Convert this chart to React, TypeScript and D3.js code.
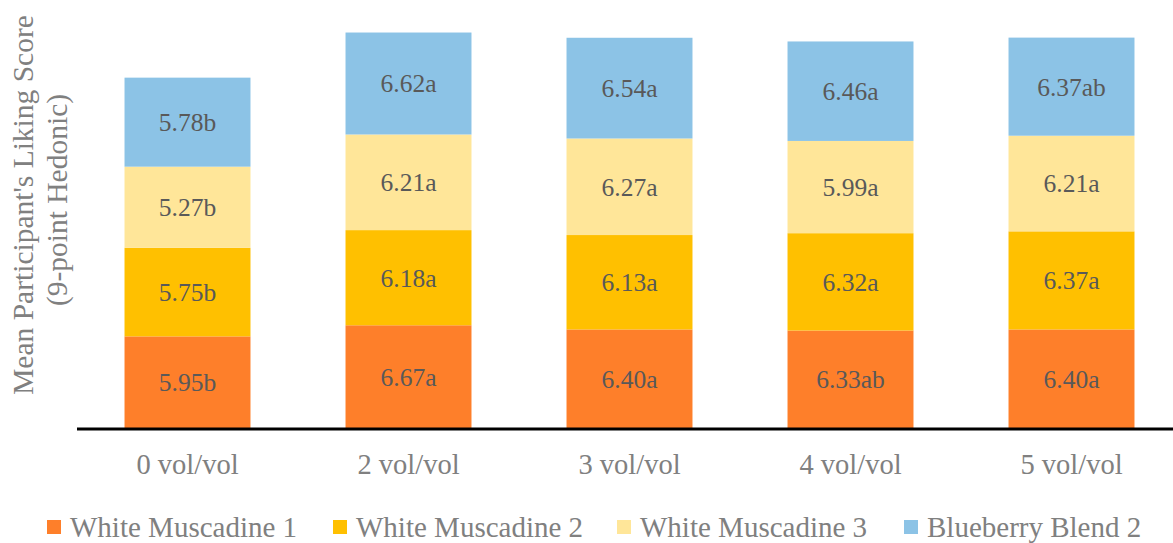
import React from 'react';
import * as d3 from 'd3';

const categories = ['0 vol/vol', '2 vol/vol', '3 vol/vol', '4 vol/vol', '5 vol/vol'];
const seriesNames = ['White Muscadine 1', 'White Muscadine 2', 'White Muscadine 3', 'Blueberry Blend 2'];
const seriesColors = ['#FE7F2A', '#FFC000', '#FFE699', '#8CC3E6'];

const muscadine1 = [5.95, 6.67, 6.40, 6.33, 6.40];
const muscadine2 = [5.75, 6.18, 6.13, 6.32, 6.37];
const muscadine3 = [5.27, 6.21, 6.27, 5.99, 6.21];
const blueberry2 = [5.78, 6.62, 6.54, 6.46, 6.37];

const letters1 = ['b', 'a', 'a', 'ab', 'a'];
const letters2 = ['b', 'a', 'a', 'a', 'a'];
const letters3 = ['b', 'a', 'a', 'a', 'a'];
const letters4 = ['b', 'a', 'a', 'a', 'ab'];

const seriesValues = [muscadine1, muscadine2, muscadine3, blueberry2];
const seriesLetters = [letters1, letters2, letters3, letters4];

const W = 1173;
const H = 543;
const FONT = '"Palatino Linotype", "Book Antiqua", Palatino, "Liberation Serif", serif';

export default function App() {
  const rows = categories.map((c, i) => {
    const r: any = { cat: c };
    seriesNames.forEach((s, j) => (r[s] = seriesValues[j][i]));
    return r;
  });
  const stacked = d3.stack<any>().keys(seriesNames)(rows);

  const x = d3.scaleBand().domain(categories).range([77, 1182]).paddingInner(0.43).paddingOuter(0.215);
  const y = d3.scaleLinear().domain([0, 26]).range([428, 428 - 26 * 15.4]);

  const legendX = [47, 333, 617, 904];

  return (
    <svg width={W} height={H} style={{ position: 'absolute', left: 0, top: 0, background: '#fff' }} fontFamily={FONT}>
      {stacked.map((layer, j) => (
        <g key={layer.key}>
          {layer.map((d, i) => (
            <g key={i}>
              <rect
                x={x(categories[i])}
                y={y(d[1])}
                width={x.bandwidth()}
                height={y(d[0]) - y(d[1])}
                fill={seriesColors[j]}
              />
              <text
                x={(x(categories[i]) as number) + x.bandwidth() / 2}
                y={(y(d[0]) + y(d[1])) / 2}
                dy="0.35em"
                textAnchor="middle"
                fontSize={25.5}
                fill="#595959"
              >
                {seriesValues[j][i].toFixed(2) + seriesLetters[j][i]}
              </text>
            </g>
          ))}
        </g>
      ))}
      <line x1={77} x2={W} y1={y(0) + 1} y2={y(0) + 1} stroke="#000" strokeWidth={3} />
      {categories.map((c) => (
        <text
          key={c}
          x={(x(c) as number) + x.bandwidth() / 2}
          y={474}
          textAnchor="middle"
          fontSize={28.5}
          fill="#808080"
        >
          {c}
        </text>
      ))}
      <text transform="translate(33,205) rotate(-90)" textAnchor="middle" fontSize={29.5} fill="#808080">
        Mean Participant's Liking Score
      </text>
      <text transform="translate(67,200) rotate(-90)" textAnchor="middle" fontSize={29.5} fill="#808080">
        (9-point Hedonic)
      </text>
      {seriesNames.map((s, j) => (
        <g key={s} transform={`translate(${legendX[j]},0)`}>
          <rect x={0} y={520} width={14} height={14} fill={seriesColors[j]} />
          <text x={23} y={537} fontSize={29} fill="#808080">
            {s}
          </text>
        </g>
      ))}
    </svg>
  );
}
